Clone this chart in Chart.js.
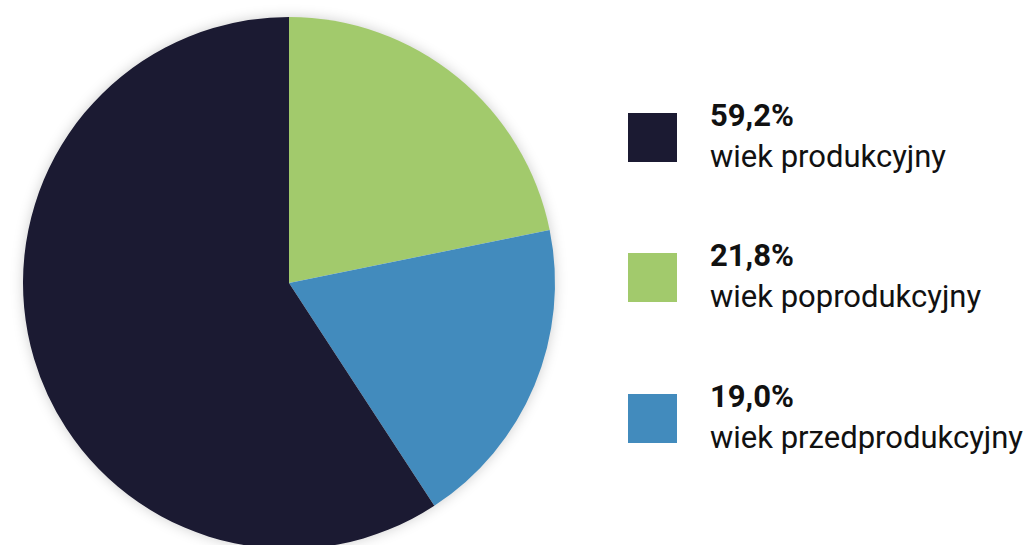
<!DOCTYPE html>
<html>
<head>
<meta charset="utf-8">
<script src="https://cdn.jsdelivr.net/npm/chart.js@4"></script>
<style>
  html, body { margin: 0; padding: 0; background: #fff; overflow: hidden; }
  body { width: 1026px; height: 545px; position: relative; font-family: Roboto, sans-serif; }
  #box { position: absolute; left: 3px; top: -3px; width: 572px; height: 572px; }
  .legend { position: absolute; left: 628px; top: 0; }
  .item { position: absolute; left: 0; width: 400px; }
  .sw { position: absolute; left: 0; top: 0; width: 49px; height: 49px; }
  .val { position: absolute; left: 82px; top: -16px; font-weight: 700; font-size: 31px; color: #111; white-space: nowrap; }
  .lab { position: absolute; left: 82px; top: 25px; font-size: 31px; color: #111; white-space: nowrap; }
</style>
</head>
<body>
<div id="box"><canvas id="pieChart"></canvas></div>
<div class="legend" id="legend"></div>
<script>
// dane wykresu (kolejność zgodnie z ruchem wskazówek zegara od góry)
const categories = ['wiek poprodukcyjny', 'wiek przedprodukcyjny', 'wiek produkcyjny'];
const values = [21.8, 19.0, 59.2];
const colors = ['#a2ca6c', '#428bbd', '#1b1a32'];
// kolejność w legendzie
const legendOrder = [2, 0, 1];

// cień pod kołem
const shadowPlugin = {
    id: 'pieShadow',
    beforeDatasetsDraw(chart) {
        const arc = chart.getDatasetMeta(0).data[0];
        if (!arc) return;
        const c = chart.ctx;
        c.save();
        c.shadowColor = 'rgba(0,0,0,0.22)';
        c.shadowBlur = 14;
        c.fillStyle = '#fff';
        c.beginPath();
        c.arc(arc.x, arc.y, arc.outerRadius - 1, 0, Math.PI * 2);
        c.fill();
        c.restore();
    }
};

const ctx = document.getElementById('pieChart').getContext('2d');
const pieChart = new Chart(ctx, {
    type: 'pie',
    data: {
        labels: categories,
        datasets: [{
            data: values,
            backgroundColor: colors,
            borderWidth: 0
        }]
    },
    options: {
        responsive: true,
        maintainAspectRatio: false,
        animation: false,
        layout: { padding: 20 },
        plugins: {
            legend: { display: false },
            tooltip: { enabled: false }
        }
    },
    plugins: [shadowPlugin]
});

// legenda HTML
const legend = document.getElementById('legend');
const tops = [113, 253, 394];
legendOrder.forEach((idx, i) => {
    const item = document.createElement('div');
    item.className = 'item';
    item.style.top = tops[i] + 'px';
    item.innerHTML = '<div class="sw" style="background:' + colors[idx] + '"></div>' +
        '<div class="val">' + values[idx].toFixed(1).replace('.', ',') + '%</div>' +
        '<div class="lab">' + categories[idx] + '</div>';
    legend.appendChild(item);
});
</script>
</body>
</html>
